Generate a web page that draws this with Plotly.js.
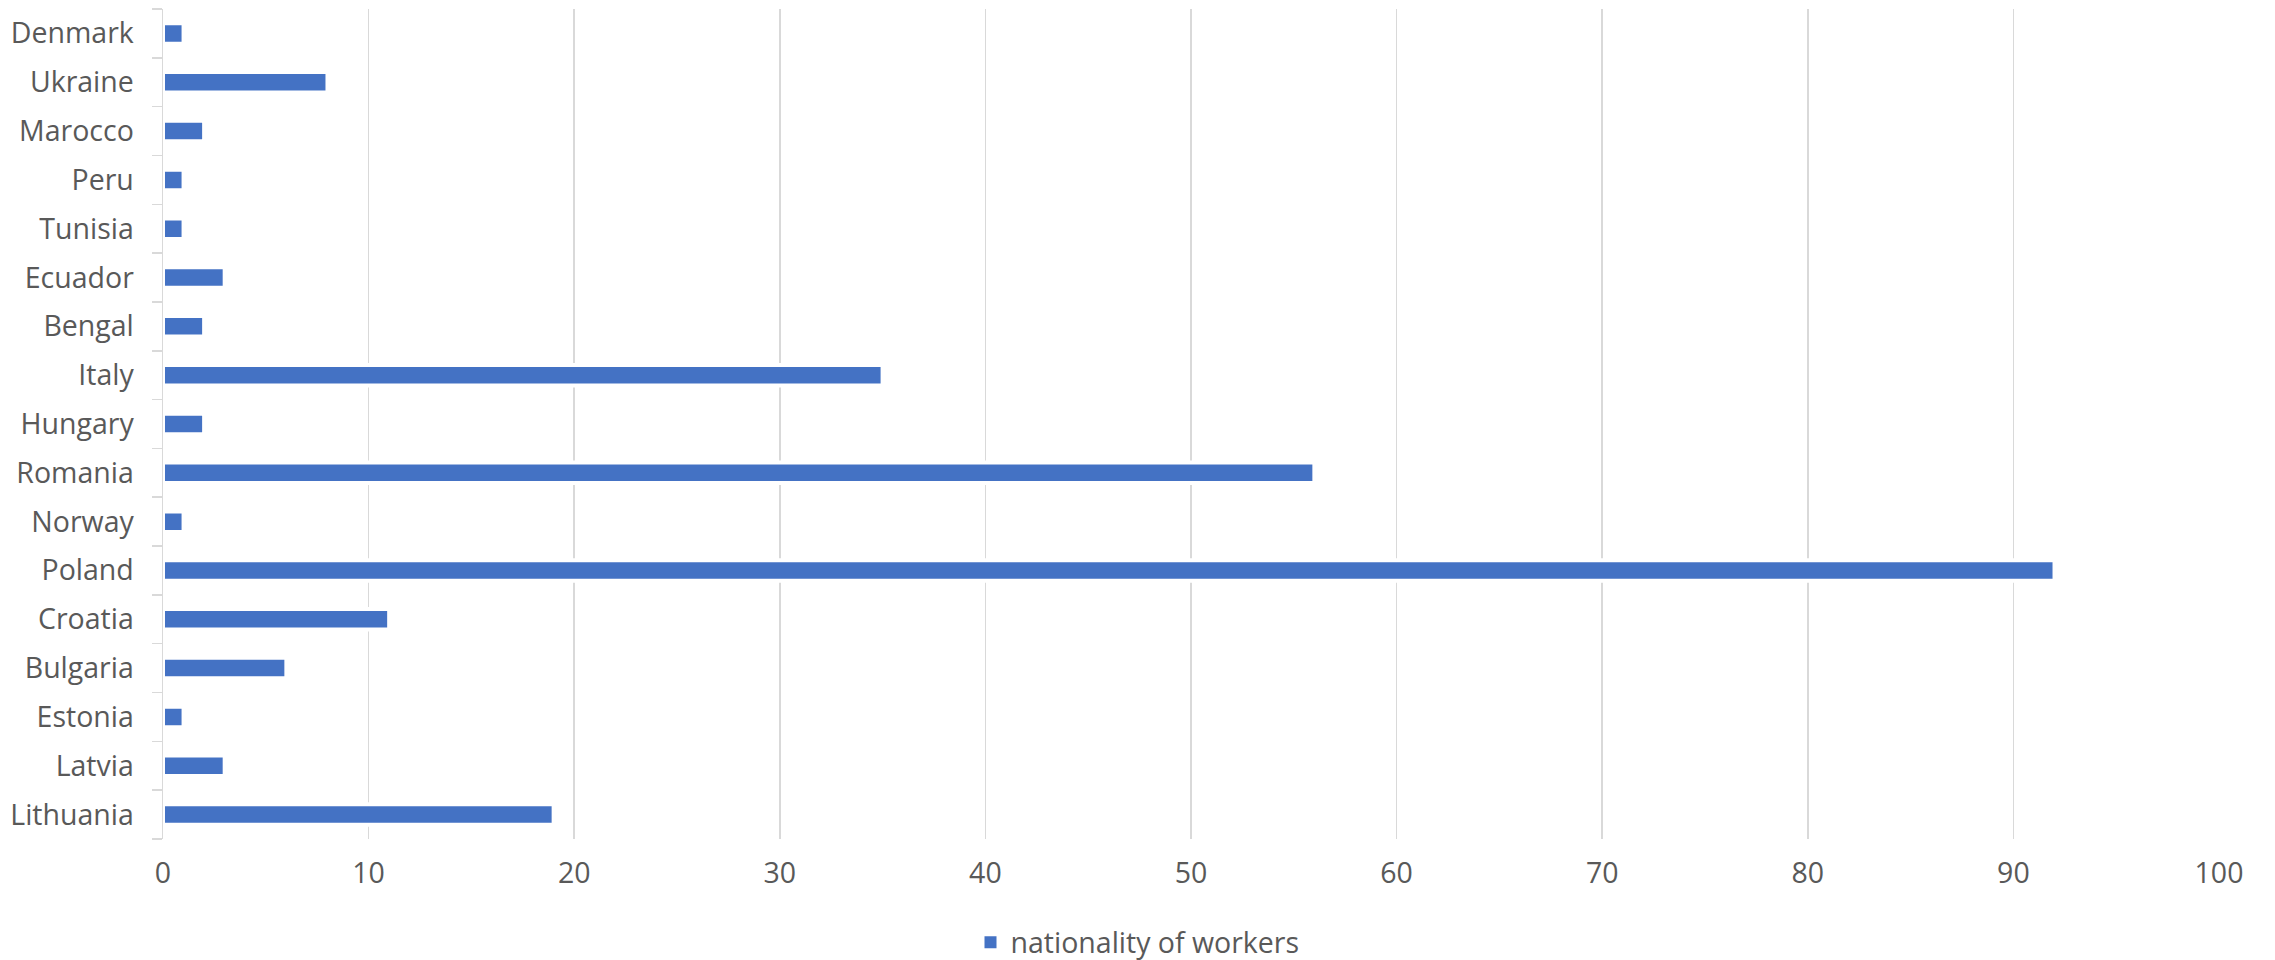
<!DOCTYPE html>
<html>
<head>
<meta charset="utf-8">
<script src="https://cdn.plot.ly/plotly-3.0.1.min.js"></script>
<style>html,body{margin:0;padding:0;background:#fff;}#chart{width:2275px;height:960px;}</style>
</head>
<body>
<div id="chart"></div>
<script>
const countries = ["Lithuania","Latvia","Estonia","Bulgaria","Croatia","Poland","Norway","Romania","Hungary","Italy","Bengal","Ecuador","Tunisia","Peru","Marocco","Ukraine","Denmark"];
const workers = [19,3,1,6,11,92,1,56,2,35,2,3,1,1,2,8,1];
const seriesName = "nationality of workers";
const xTicks = [0,10,20,30,40,50,60,70,80,90,100];

const fontFam = "'Open Sans', 'Noto Sans', sans-serif";
const barColor = "#4472c4";
const trace = {
  type: "bar",
  orientation: "h",
  x: workers,
  y: countries,
  name: seriesName,
  showlegend: false,
  legendgroup: "w",
  width: 0.42,
  marker: {color: barColor, line: {color: "#ffffff", width: 4}},
  hoverinfo: "x+y"
};
// legend entry only (no data)
const legendTrace = {
  type: "bar",
  orientation: "h",
  x: [null],
  y: [null],
  name: seriesName,
  legendgroup: "w",
  showlegend: true,
  marker: {color: barColor, line: {width: 0}},
  hoverinfo: "skip"
};
const layout = {
  width: 2275, height: 960,
  margin: {l: 163, r: 56, t: 9, b: 121},
  paper_bgcolor: "#fff", plot_bgcolor: "#fff",
  font: {family: fontFam, size: 28.5, color: "#595959"},
  bargap: 0.58,
  xaxis: {
    range: [0, 100],
    tickvals: xTicks,
    ticktext: xTicks.map(String),
    showgrid: true, gridcolor: "#d9d9d9", gridwidth: 1.5,
    zeroline: false, showline: false,
    ticks: "", ticklabelstandoff: 14,
    tickfont: {size: 28.5, color: "#595959"},
    fixedrange: true
  },
  yaxis: {
    type: "category",
    categoryorder: "array", categoryarray: countries,
    showline: true, linecolor: "#d9d9d9", linewidth: 1.5,
    ticks: "outside", tickson: "boundaries", ticklen: 10, tickcolor: "#d9d9d9", tickwidth: 1.5,
    showgrid: false, zeroline: false,
    ticklabelstandoff: 22,
    tickfont: {size: 28.5, color: "#595959"},
    fixedrange: true
  },
  showlegend: true,
  legend: {
    orientation: "h",
    xref: "container", yref: "container",
    x: 0.5, xanchor: "center",
    y: 0.018, yanchor: "middle",
    font: {size: 28.5, color: "#595959"},
    itemwidth: 30
  }
};
Plotly.newPlot("chart", [trace, legendTrace], layout, {displayModeBar: false, staticPlot: true});
</script>
</body>
</html>
